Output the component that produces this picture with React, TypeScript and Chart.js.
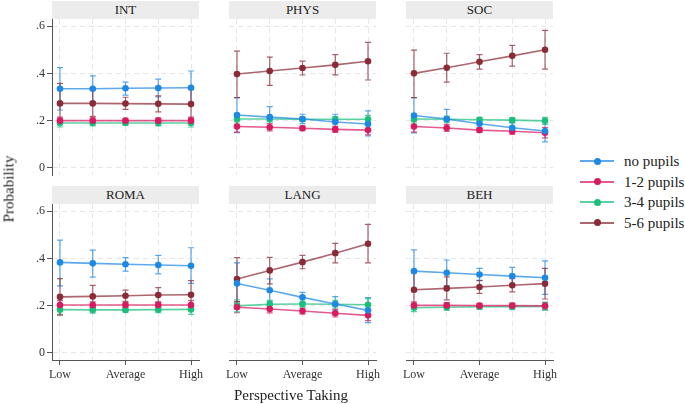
import React, { useEffect, useRef } from 'react';
import { Chart, registerables } from 'chart.js';

Chart.register(...registerables);

// ---------------- data ----------------
const xLabels = ['Low', '', 'Average', '', 'High'];
const yTicks = [0, 0.2, 0.4, 0.6];
const yTickLabels = ['0', '.2', '.4', '.6'];
const seriesNames = ['no pupils', '1-2 pupils', '3-4 pupils', '5-6 pupils'];
const seriesColors = ['#1e88e5', '#d81b60', '#1bbf7b', '#8b2b38'];
const panelNames = ['INT', 'PHYS', 'SOC', 'ROMA', 'LANG', 'BEH'];

// each: [no pupils, 1-2, 3-4, 5-6] x [Low .. High]
const INT_EST = [
  [0.335, 0.335, 0.337, 0.338, 0.339],
  [0.2, 0.2, 0.2, 0.2, 0.2],
  [0.19, 0.19, 0.19, 0.19, 0.19],
  [0.273, 0.273, 0.272, 0.271, 0.27],
];
const INT_LO = [
  [0.245, 0.281, 0.308, 0.3, 0.268],
  [0.185, 0.188, 0.19, 0.188, 0.185],
  [0.173, 0.178, 0.18, 0.178, 0.173],
  [0.19, 0.218, 0.248, 0.237, 0.21],
];
const INT_HI = [
  [0.424, 0.389, 0.363, 0.376, 0.41],
  [0.215, 0.212, 0.21, 0.212, 0.215],
  [0.207, 0.202, 0.2, 0.202, 0.207],
  [0.358, 0.33, 0.299, 0.305, 0.333],
];

const PHYS_EST = [
  [0.224, 0.215, 0.207, 0.194, 0.186],
  [0.175, 0.172, 0.168, 0.163, 0.16],
  [0.207, 0.207, 0.206, 0.206, 0.206],
  [0.397, 0.41, 0.423, 0.436, 0.451],
];
const PHYS_LO = [
  [0.149, 0.17, 0.187, 0.165, 0.135],
  [0.151, 0.157, 0.158, 0.15, 0.14],
  [0.19, 0.195, 0.197, 0.195, 0.19],
  [0.297, 0.349, 0.393, 0.394, 0.372],
];
const PHYS_HI = [
  [0.297, 0.259, 0.227, 0.227, 0.241],
  [0.199, 0.187, 0.178, 0.176, 0.18],
  [0.224, 0.219, 0.215, 0.217, 0.222],
  [0.494, 0.469, 0.452, 0.479, 0.531],
];

const SOC_EST = [
  [0.222, 0.207, 0.187, 0.17, 0.156],
  [0.175, 0.169, 0.16, 0.155, 0.149],
  [0.207, 0.206, 0.204, 0.202, 0.199],
  [0.4, 0.424, 0.449, 0.474, 0.5],
];
const SOC_LO = [
  [0.148, 0.168, 0.167, 0.152, 0.11],
  [0.151, 0.154, 0.15, 0.142, 0.127],
  [0.19, 0.193, 0.194, 0.191, 0.184],
  [0.297, 0.363, 0.418, 0.431, 0.418],
];
const SOC_HI = [
  [0.297, 0.248, 0.207, 0.19, 0.2],
  [0.199, 0.184, 0.17, 0.168, 0.171],
  [0.224, 0.219, 0.214, 0.213, 0.214],
  [0.498, 0.485, 0.479, 0.518, 0.582],
];

const ROMA_EST = [
  [0.383, 0.379, 0.375, 0.372, 0.369],
  [0.203, 0.203, 0.203, 0.203, 0.203],
  [0.183, 0.182, 0.182, 0.183, 0.184],
  [0.237, 0.239, 0.242, 0.245, 0.246],
];
const ROMA_LO = [
  [0.284, 0.321, 0.346, 0.334, 0.294],
  [0.185, 0.19, 0.193, 0.19, 0.185],
  [0.163, 0.168, 0.172, 0.17, 0.163],
  [0.16, 0.192, 0.218, 0.214, 0.186],
];
const ROMA_HI = [
  [0.477, 0.435, 0.403, 0.413, 0.445],
  [0.221, 0.216, 0.213, 0.216, 0.221],
  [0.203, 0.196, 0.192, 0.196, 0.205],
  [0.314, 0.286, 0.266, 0.276, 0.306],
];

const LANG_EST = [
  [0.294, 0.265, 0.235, 0.207, 0.18],
  [0.193, 0.186, 0.177, 0.168, 0.159],
  [0.199, 0.206, 0.207, 0.206, 0.204],
  [0.313, 0.349, 0.384, 0.422, 0.462],
];
const LANG_LO = [
  [0.21, 0.218, 0.213, 0.178, 0.128],
  [0.17, 0.169, 0.164, 0.152, 0.137],
  [0.174, 0.19, 0.195, 0.19, 0.178],
  [0.217, 0.292, 0.356, 0.381, 0.381],
];
const LANG_HI = [
  [0.381, 0.313, 0.256, 0.238, 0.234],
  [0.216, 0.203, 0.19, 0.184, 0.181],
  [0.224, 0.222, 0.219, 0.222, 0.23],
  [0.403, 0.404, 0.413, 0.463, 0.544],
];

const BEH_EST = [
  [0.346, 0.339, 0.332, 0.325, 0.318],
  [0.201, 0.201, 0.2, 0.2, 0.199],
  [0.191, 0.193, 0.195, 0.196, 0.197],
  [0.267, 0.273, 0.279, 0.286, 0.293],
];
const BEH_LO = [
  [0.259, 0.285, 0.306, 0.29, 0.248],
  [0.186, 0.189, 0.19, 0.189, 0.184],
  [0.175, 0.18, 0.184, 0.183, 0.18],
  [0.196, 0.224, 0.252, 0.258, 0.228],
];
const BEH_HI = [
  [0.436, 0.393, 0.358, 0.362, 0.389],
  [0.216, 0.213, 0.21, 0.211, 0.214],
  [0.207, 0.206, 0.206, 0.209, 0.214],
  [0.34, 0.322, 0.307, 0.314, 0.358],
];

const panelEst = [INT_EST, PHYS_EST, SOC_EST, ROMA_EST, LANG_EST, BEH_EST];
const panelLo = [INT_LO, PHYS_LO, SOC_LO, ROMA_LO, LANG_LO, BEH_LO];
const panelHi = [INT_HI, PHYS_HI, SOC_HI, ROMA_HI, LANG_HI, BEH_HI];

// ---------------- layout ----------------
const FONT = "'Liberation Serif', 'Times New Roman', serif";
const PLOT_W = 147;
const PLOT_H = 156;
const colLeft = [52, 229, 406];
const rowTop = [19, 204];
const headerTop = [1, 186];

function hexA(hex: string, a: number) {
  const r = parseInt(hex.slice(1, 3), 16);
  const g = parseInt(hex.slice(3, 5), 16);
  const b = parseInt(hex.slice(5, 7), 16);
  return `rgba(${r},${g},${b},${a})`;
}

const errorBars = {
  id: 'errorBars',
  beforeDatasetsDraw(chart: any) {
    const ctx = chart.ctx;
    const xs = chart.scales.x;
    const ys = chart.scales.y;
    chart.data.datasets.forEach((ds: any, di: number) => {
      if (!chart.isDatasetVisible(di)) return;
      ctx.save();
      ctx.strokeStyle = ds.errColor;
      ctx.lineWidth = 1.2;
      ds.errLo.forEach((lo: number, i: number) => {
        const hi = ds.errHi[i];
        const x = xs.getPixelForValue(i);
        const y1 = ys.getPixelForValue(lo);
        const y2 = ys.getPixelForValue(hi);
        ctx.beginPath();
        ctx.moveTo(x, y1);
        ctx.lineTo(x, y2);
        ctx.moveTo(x - 3, y1);
        ctx.lineTo(x + 3, y1);
        ctx.moveTo(x - 3, y2);
        ctx.lineTo(x + 3, y2);
        ctx.stroke();
      });
      ctx.restore();
    });
  },
};

function geometry(p: number) {
  const col = p % 3;
  const row = Math.floor(p / 3);
  const padL = col === 0 ? 0 : 6;
  const axisW = col === 0 ? 52 : 0;
  const padR = 10;
  const bottomH = row === 1 ? 404 - rowTop[1] - PLOT_H : 1;
  const left = colLeft[col] - axisW - padL;
  const top = rowTop[row];
  const width = padL + axisW + PLOT_W + padR;
  const height = PLOT_H + bottomH;
  return { col, row, padL, axisW, padR, bottomH, left, top, width, height };
}

export default function App() {
  const refs = useRef<(HTMLCanvasElement | null)[]>([]);

  useEffect(() => {
    document.body.style.margin = '0';
    const charts: Chart[] = [];
    panelNames.forEach((name, p) => {
      const canvas = refs.current[p];
      if (!canvas) return;
      const g = geometry(p);
      const bottom = g.row === 1;
      const left = g.col === 0;
      const chart = new Chart(canvas, {
        type: 'line',
        data: {
          datasets: seriesNames.map((sn, s) => ({
            label: sn,
            data: panelEst[p][s].map((v, i) => ({ x: i, y: v })),
            errLo: panelLo[p][s],
            errHi: panelHi[p][s],
            errColor: hexA(seriesColors[s], 0.75),
            borderColor: hexA(seriesColors[s], 0.72),
            backgroundColor: seriesColors[s],
            pointBackgroundColor: seriesColors[s],
            pointBorderColor: seriesColors[s],
            pointRadius: 3.3,
            pointBorderWidth: 0,
            borderWidth: 1.6,
            tension: 0,
            fill: false,
          })) as any,
        },
        options: {
          animation: false,
          responsive: false,
          maintainAspectRatio: false,
          devicePixelRatio: 1,
          events: [],
          layout: {
            autoPadding: false,
            padding: { left: g.padL, right: g.padR, top: 0, bottom: 0 },
          },
          plugins: {
            legend: { display: false },
            tooltip: { enabled: false },
            title: { display: false },
          },
          scales: {
            x: {
              type: 'linear',
              min: -0.244,
              max: 4.244,
              afterBuildTicks: (s: any) => {
                s.ticks = xLabels.map((_, i) => ({ value: i }));
              },
              afterFit: (s: any) => {
                s.height = g.bottomH;
                s.paddingLeft = 0;
                s.paddingRight = 0;
                s.paddingTop = 0;
                s.paddingBottom = 0;
              },
              grid: {
                color: '#e6e6e6',
                lineWidth: 1,
                drawTicks: bottom,
                tickLength: 5,
                tickWidth: 1,
                tickColor: (c: any) => (c.index % 2 === 0 ? '#555' : 'rgba(0,0,0,0)'),
              },
              border: { display: bottom, color: '#555', width: 1, dash: [5, 4] },
              ticks: {
                display: bottom,
                autoSkip: false,
                maxRotation: 0,
                padding: 3,
                color: '#333',
                font: { family: FONT, size: 12 },
                callback: (_v: any, i: number) => xLabels[i],
              },
            },
            y: {
              type: 'linear',
              min: -0.03,
              max: 0.63,
              afterBuildTicks: (s: any) => {
                s.ticks = yTicks.map((v) => ({ value: v }));
              },
              afterFit: (s: any) => {
                s.width = g.axisW;
                s.paddingLeft = 0;
                s.paddingRight = 0;
                s.paddingTop = 0;
                s.paddingBottom = 0;
              },
              grid: {
                color: '#e6e6e6',
                lineWidth: 1,
                drawTicks: left,
                tickLength: 5,
                tickWidth: 1,
                tickColor: '#555',
              },
              border: { display: left, color: '#555', width: 1, dash: [5, 4] },
              ticks: {
                display: left,
                padding: 2,
                color: '#333',
                font: { family: FONT, size: 12 },
                callback: (_v: any, i: number) => yTickLabels[i],
              },
            },
          },
        } as any,
        plugins: [errorBars],
      });
      charts.push(chart);
    });
    return () => charts.forEach((c) => c.destroy());
  }, []);

  return (
    <div style={{ position: 'relative', width: 685, height: 404, background: '#fff', overflow: 'hidden', fontFamily: FONT }}>
      {panelNames.map((name, p) => {
        const g = geometry(p);
        return (
          <React.Fragment key={name}>
            <div
              style={{
                position: 'absolute',
                left: colLeft[g.col],
                top: headerTop[g.row],
                width: PLOT_W,
                height: 18,
                background: '#ececec',
                color: '#222',
                fontSize: 13,
                lineHeight: '18px',
                textAlign: 'center',
              }}
            >
              {name}
            </div>
            <canvas
              ref={(el) => {
                refs.current[p] = el;
              }}
              width={g.width}
              height={g.height}
              style={{ position: 'absolute', left: g.left, top: g.top, width: g.width, height: g.height }}
            />
          </React.Fragment>
        );
      })}
      <div
        style={{
          position: 'absolute',
          left: 9,
          top: 189,
          transform: 'translate(-50%,-50%) rotate(-90deg)',
          whiteSpace: 'nowrap',
          fontSize: 15,
          color: '#222',
        }}
      >
        Probability
      </div>
      <div
        style={{
          position: 'absolute',
          left: 291,
          top: 395,
          transform: 'translate(-50%,-50%)',
          whiteSpace: 'nowrap',
          fontSize: 15,
          color: '#222',
        }}
      >
        Perspective Taking
      </div>
      {seriesNames.map((sn, s) => {
        const cy = 161 + s * 20.5;
        return (
          <React.Fragment key={sn}>
            <div
              style={{
                position: 'absolute',
                left: 580,
                top: cy - 1,
                width: 34,
                height: 2,
                background: hexA(seriesColors[s], 0.72),
              }}
            />
            <div
              style={{
                position: 'absolute',
                left: 597 - 3.5,
                top: cy - 3.5,
                width: 7,
                height: 7,
                borderRadius: '50%',
                background: seriesColors[s],
              }}
            />
            <div
              style={{
                position: 'absolute',
                left: 624,
                top: cy,
                transform: 'translateY(-50%)',
                whiteSpace: 'nowrap',
                fontSize: 15,
                color: '#222',
                lineHeight: '18px',
              }}
            >
              {sn}
            </div>
          </React.Fragment>
        );
      })}
    </div>
  );
}
